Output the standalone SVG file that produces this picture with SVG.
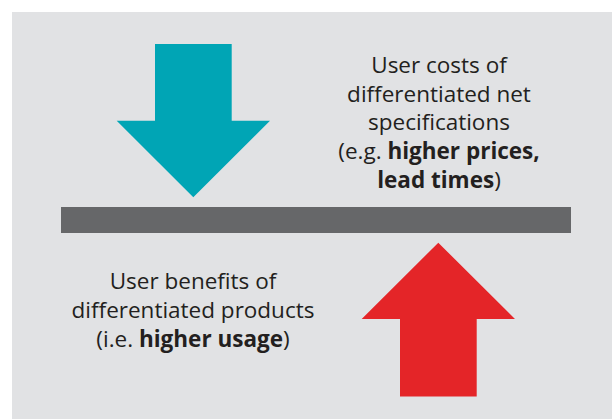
<svg xmlns="http://www.w3.org/2000/svg" width="613" height="419" viewBox="0 0 613 419">
  <style>
    .lbl { font-family: "Open Sans", "Liberation Sans", sans-serif; font-size: 22.5px; fill: #231f20; text-anchor: middle; }
    .b { font-weight: bold; }
  </style>
  <rect x="0" y="0" width="613" height="419" fill="#ffffff"/>
  <rect x="12" y="12" width="600" height="407" fill="#e1e2e4"/>

  <!-- balance bar -->
  <rect id="bar" x="61" y="207" width="510" height="26" fill="#666769"/>

  <g id="costs-arrow">
    <polygon points="155,44 231.7,44 231.7,120.7 270,120.7 193.3,197.3 116.7,120.7 155,120.7" fill="#00a5b5"/>
  </g>

  <g id="benefits-arrow">
    <polygon points="400,396.5 476.7,396.5 476.7,319 515,319 438.3,242.7 361.7,319 400,319" fill="#e42528"/>
  </g>

  <g id="costs-label">
    <text class="lbl" x="439" y="72.7">User costs of</text>
    <text class="lbl" x="439" y="101.5">differentiated net</text>
    <text class="lbl" x="439" y="130.3">specifications</text>
    <text class="lbl" x="439" y="159.1">(e.g. <tspan class="b">higher prices,</tspan></text>
    <text class="lbl" x="439" y="187.9"><tspan class="b">lead times</tspan>)</text>
  </g>

  <g id="benefits-label">
    <text class="lbl" x="193" y="289.3">User benefits of</text>
    <text class="lbl" x="193" y="318">differentiated products</text>
    <text class="lbl" x="193" y="346.7">(i.e. <tspan class="b">higher usage</tspan>)</text>
  </g>
</svg>
